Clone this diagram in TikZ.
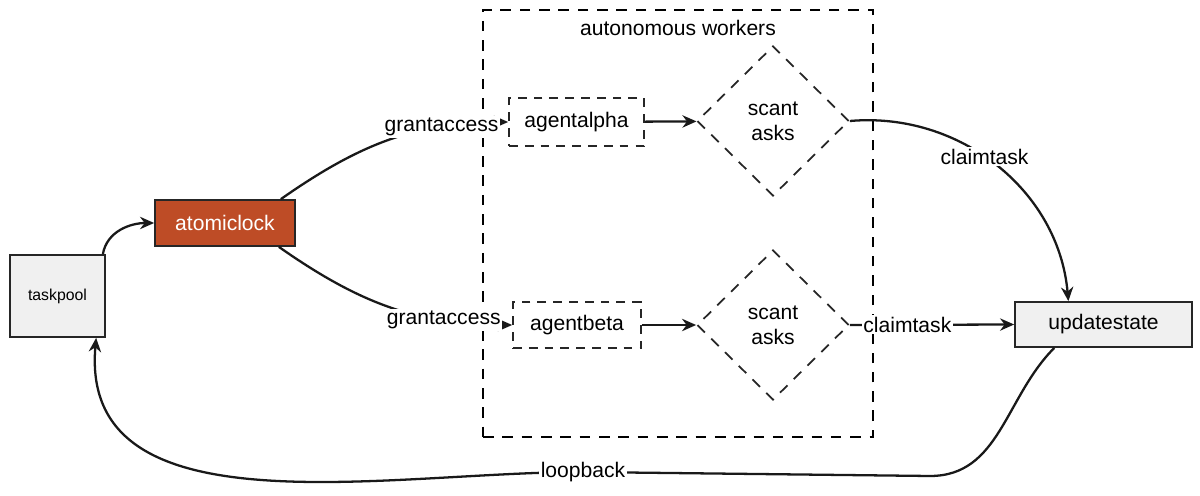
\documentclass[tikz,border=0pt]{standalone}
\usepackage{fontspec}
\setmainfont{Liberation Sans}
\usetikzlibrary{shapes.geometric,arrows.meta}
\begin{document}
\begin{tikzpicture}[x=0.02cm,y=-0.02cm,
  box/.style={draw=black!85,line width=1pt,minimum height=0.92cm,font=\large},
  dbox/.style={box,dashed,dash pattern=on 5pt off 4pt},
  dia/.style={draw=black!85,line width=1pt,dashed,dash pattern=on 6pt off 5pt,diamond,minimum width=3.04cm,minimum height=3cm,align=center,inner sep=0pt,font=\large},
  con/.style={draw=black!90,line width=1.3pt,-{Stealth[length=8pt,width=7pt]}},
  lab/.style={fill=white,inner sep=1pt,font=\large}]
\useasboundingbox (0,0) rectangle (1200,496);
\node[draw=black,line width=1pt,dashed,dash pattern=on 6pt off 5pt,minimum width=7.8cm,minimum height=8.54cm] (cont) at (678,223.5) {};
\node[font=\large] (contlab) at (678,28) {autonomous workers};
\node[box,fill=black!6,minimum width=1.9cm,minimum height=1.64cm,font=\small] (tp) at (57.5,296) {taskpool};
\node[box,fill=orange!50!red!70!black!85,text=white,minimum width=2.8cm] (al) at (225,223) {atomiclock};
\node[dbox,minimum width=2.7cm,minimum height=0.96cm] (aa) at (576.5,122) {agentalpha};
\node[dbox,minimum width=2.56cm] (ab) at (577,325) {agentbeta};
\node[dia] (d1) at (773,121) {scant\\asks};
\node[dia] (d2) at (773,325) {scant\\asks};
\node[box,fill=black!6,minimum width=3.54cm,minimum height=0.9cm] (us) at (1103.5,324.5) {updatestate};
\draw[con] (tp.north east) ++(-3,0) coordinate (s1) to[out=80,in=180] (al.west);
\draw[con] (al.north east) ++(-15,0) to[out=35,in=180] node[lab,pos=0.74] {grantaccess} (aa.west);
\draw[con] (al.south east) ++(-17,0) to[out=-35,in=180] node[lab,pos=0.74] {grantaccess} (ab.west);
\draw[con] (aa) -- (d1);
\draw[con] (ab) -- (d2);
\draw[con] (d1.east) to[out=5,in=95] node[lab,pos=0.45] {claimtask} ([xshift=-20]us.north);
\draw[con] (d2.east) -- node[lab,pos=0.35] {claimtask} (us.west);
\coordinate (lb) at (583,472);
\draw[con] ([xshift=-28]us.south) to[out=-135,in=0] (930,476) -- (lb) node[lab] {loopback} to[out=180,in=-95] ([xshift=22]tp.south);
\end{tikzpicture}
\end{document}
